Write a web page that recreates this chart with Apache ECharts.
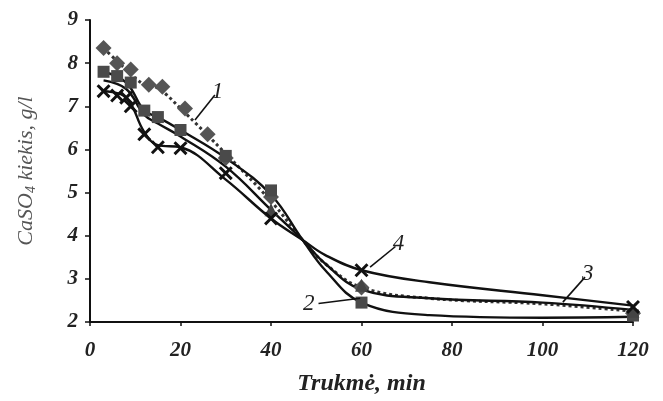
<!DOCTYPE html>
<html>
<head>
<meta charset="utf-8">
<script src="https://cdn.jsdelivr.net/npm/echarts@6/dist/echarts.min.js"></script>
<style>
  html, body { margin: 0; padding: 0; background: #fff; }
  #chart { width: 663px; height: 401px; }
</style>
</head>
<body>
<div id="chart"></div>
<script>
// fitted curves, shared time points (min)
var curveX = [3, 8, 12, 15, 20, 30, 40, 47, 52, 60, 75, 100, 120];
var curve1 = [8.35, 7.85, 7.5, 7.42, 6.95, 5.9, 4.8, 3.9, 3.35, 2.8, 2.55, 2.42, 2.25];
var curve2 = [7.8, 7.55, 6.9, 6.75, 6.45, 5.8, 4.95, 3.9, 3.2, 2.45, 2.16, 2.1, 2.12];
var curve3 = [7.6, 7.4, 6.8, 6.6, 6.3, 5.6, 4.6, 3.9, 3.35, 2.75, 2.55, 2.45, 2.28];
var curve4 = [7.35, 7.2, 6.4, 6.1, 6.05, 5.3, 4.4, 3.9, 3.55, 3.2, 2.92, 2.62, 2.38];

// measured points
var t1 = [3, 6, 9, 13, 16, 21, 26, 30, 40, 60, 120];
var v1 = [8.35, 8.0, 7.85, 7.5, 7.45, 6.95, 6.35, 5.8, 4.9, 2.8, 2.2];
var t2 = [3, 6, 9, 12, 15, 20, 30, 40, 60, 120];
var v2 = [7.8, 7.7, 7.55, 6.9, 6.75, 6.45, 5.85, 5.05, 2.45, 2.15];
var t3 = [40, 60, 120];
var v3 = [4.6, 2.85, 2.25];
var t4 = [3, 6, 8, 9, 12, 15, 20, 30, 40, 60, 120];
var v4 = [7.35, 7.25, 7.2, 7.0, 6.35, 6.05, 6.03, 5.45, 4.4, 3.2, 2.35];

// curve labels: [name, from, to]
var labels = [
  ['1', [23.2, 6.68], [27.6, 7.26]],
  ['4', [61.9, 3.27], [67.5, 3.75]],
  ['2', [59.7, 2.55], [50.5, 2.43]],
  ['3', [104.5, 2.46], [109.4, 3.04]]
];

var xTicks = [0, 20, 40, 60, 80, 100, 120];

function zip(xs, ys) {
  return xs.map(function (x, i) { return [x, ys[i]]; });
}

var crossPath = 'path://M0,1.5 L1.5,0 L5,3.5 L8.5,0 L10,1.5 L6.5,5 L10,8.5 L8.5,10 L5,6.5 L1.5,10 L0,8.5 L3.5,5 Z';
var font = 'Liberation Serif';

var chart = echarts.init(document.getElementById('chart'));

function curve(data, dotted) {
  return {
    type: 'line',
    data: zip(curveX, data),
    smooth: 0.4,
    symbol: 'none',
    z: 2,
    lineStyle: {
      color: dotted ? '#333' : '#111',
      width: dotted ? 3 : 2.4,
      type: dotted ? 'dotted' : 'solid'
    }
  };
}

function marks(xs, ys, symbol, size, color) {
  return {
    type: 'scatter',
    data: zip(xs, ys),
    symbol: symbol,
    symbolSize: size,
    z: 3,
    itemStyle: { color: color, opacity: 1 }
  };
}

var leaderSeries = {
  type: 'line',
  data: [],
  markLine: {
    symbol: ['none', 'none'],
    silent: true,
    lineStyle: { color: '#111', width: 1.6, type: 'solid' },
    label: {
      show: true,
      position: 'end',
      distance: 4,
      color: '#222',
      fontFamily: font,
      fontStyle: 'italic',
      fontSize: 23,
      formatter: function (p) { return p.name; }
    },
    data: labels.map(function (l) {
      return [{ name: l[0], coord: l[1] }, { coord: l[2] }];
    })
  }
};

chart.setOption({
  animation: false,
  grid: { left: 90, right: 30, top: 20, bottom: 79, outerBoundsMode: 'none', containLabel: false },
  xAxis: {
    type: 'value',
    min: 0,
    max: 120,
    interval: 20,
    name: 'Trukmė, min',
    nameLocation: 'middle',
    nameGap: 50,
    nameTextStyle: { fontFamily: font, fontStyle: 'italic', fontWeight: 'bold', fontSize: 24, color: '#222' },
    axisLine: { lineStyle: { color: '#111', width: 2 } },
    axisTick: { length: 4, lineStyle: { color: '#111', width: 1.5 } },
    axisLabel: {
      fontFamily: font, fontStyle: 'italic', fontWeight: 'bold', fontSize: 21, color: '#222', margin: 18,
      formatter: function (v) { return xTicks.indexOf(v) >= 0 ? String(v) : ''; }
    },
    splitLine: { show: false }
  },
  yAxis: {
    type: 'value',
    min: 2,
    max: 9,
    interval: 1,
    name: '{a|CaSO}{s|4}{a| kiekis, g/l}',
    nameLocation: 'middle',
    nameGap: 52,
    nameTextStyle: {
      rich: {
        a: { fontFamily: font, fontStyle: 'italic', fontSize: 22, color: '#555' },
        s: { fontFamily: font, fontStyle: 'italic', fontSize: 14, color: '#555', verticalAlign: 'bottom', padding: [10, 0, 0, 0] }
      }
    },
    axisLine: { show: true, lineStyle: { color: '#111', width: 2 } },
    axisTick: { show: true, length: 5, lineStyle: { color: '#111', width: 1.5 } },
    axisLabel: { fontFamily: font, fontStyle: 'italic', fontWeight: 'bold', fontSize: 21, color: '#222', margin: 12 },
    splitLine: { show: false }
  },
  series: [
    curve(curve1, true),
    curve(curve2, false),
    curve(curve3, false),
    curve(curve4, false),
    marks(t1, v1, 'diamond', 16, '#555'),
    marks(t2, v2, 'rect', 12, '#4a4a4a'),
    marks(t3, v3, 'triangle', 13, '#444'),
    marks(t4, v4, crossPath, 14, '#111'),
    leaderSeries
  ]
});
</script>
</body>
</html>
